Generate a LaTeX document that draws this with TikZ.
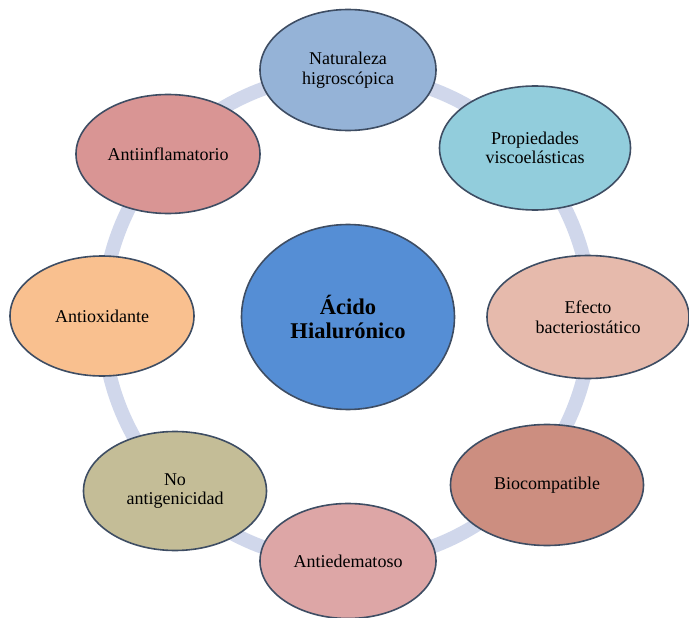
\documentclass[tikz,border=0pt]{standalone}
\usepackage{fontspec}
\setmainfont{Liberation Serif}
\usetikzlibrary{shapes.geometric}
\definecolor{ringc}{HTML}{D0D7EB}
\definecolor{edgec}{HTML}{3E4D63}
\definecolor{cNat}{HTML}{95B3D7}
\definecolor{cProp}{HTML}{92CDDC}
\definecolor{cEfe}{HTML}{E6BAAC}
\definecolor{cBio}{HTML}{CC8E80}
\definecolor{cAed}{HTML}{DDA6A6}
\definecolor{cNoa}{HTML}{C4BD97}
\definecolor{cAox}{HTML}{F9C08F}
\definecolor{cAin}{HTML}{D99594}
\definecolor{cCen}{HTML}{558ED5}
\tikzset{
  bub/.style={ellipse, draw=edgec, line width=1.6pt, inner sep=0pt,
    align=center, font=\fontsize{18}{19.5}\selectfont, text=black},
  cen/.style={bub, font=\fontsize{22.5}{24.5}\selectfont\bfseries},
  ringline/.style={draw=ringc, line width=14pt}
}
\begin{document}
\begin{tikzpicture}[x=1pt,y=-1pt]
\useasboundingbox (0,0) rectangle (689,618);
\coordinate (rc) at (347,318);
\draw[ringline] (rc) circle (244);
\node[cen, fill=cCen, minimum width=213, minimum height=185] (c) at (348,317) {Ácido\\Hialurónico};
\node[bub, fill=cNat, minimum width=176, minimum height=121] (nat) at (348,70) {Naturaleza\\higroscópica};
\node[bub, fill=cProp, minimum width=191, minimum height=124] (prop) at (535,148) {Propiedades\\viscoelásticas};
\node[bub, fill=cEfe, minimum width=202, minimum height=123] (efe) at (588,317) {Efecto\\bacteriostático};
\node[bub, fill=cBio, minimum width=193, minimum height=121] (bio) at (547,485) {Biocompatible};
\node[bub, fill=cAed, minimum width=176, minimum height=115] (aed) at (348,561) {Antiedematoso};
\node[bub, fill=cNoa, minimum width=183, minimum height=119] (noa) at (175,491) {No\\antigenicidad};
\node[bub, fill=cAox, minimum width=184, minimum height=120] (aox) at (102,316) {Antioxidante};
\node[bub, fill=cAin, minimum width=184, minimum height=119] (ain) at (168,154) {Antiinflamatorio};
\end{tikzpicture}
\end{document}
